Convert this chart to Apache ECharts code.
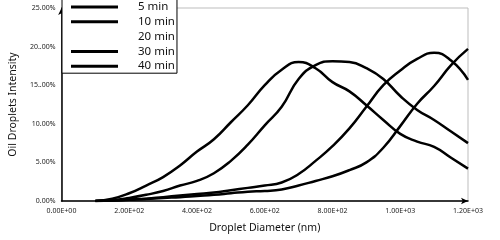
<!DOCTYPE html>
<html>
<head>
<meta charset="utf-8">
<script src="https://cdn.jsdelivr.net/npm/echarts@6/dist/echarts.min.js"></script>
<style>
  html, body { margin: 0; padding: 0; background: #fff; }
  #chart { width: 500px; height: 240px; }
</style>
</head>
<body>
<div id="chart"></div>
<script>
// droplet diameter (nm)
const diameters = [100, 150, 200, 250, 300, 350, 400, 450, 500, 550, 600, 650,
  700, 750, 800, 850, 900, 950, 1000, 1050, 1100, 1150, 1200];

// intensity (%) per time
const min5 = [0, 0.3, 1.0, 2.0, 3.1, 4.6, 6.4, 8.0, 10.2, 12.4, 15.0, 17.0,
  18.0, 17.2, 15.4, 14.2, 12.4, 10.5, 8.7, 7.7, 7.0, 5.6, 4.2];
const min10 = [0, 0.1, 0.4, 0.8, 1.3, 2.0, 2.6, 3.6, 5.2, 7.3, 9.8, 12.2,
  15.8, 17.6, 18.1, 18.0, 17.2, 15.8, 13.6, 11.8, 10.5, 9.0, 7.5];
const min20 = [];
const min30 = [0, 0.05, 0.2, 0.3, 0.5, 0.7, 0.9, 1.1, 1.4, 1.7, 2.0, 2.4,
  3.5, 5.2, 7.1, 9.4, 12.2, 15.0, 16.9, 18.4, 19.2, 18.2, 15.7];
const min40 = [0, 0.05, 0.15, 0.25, 0.4, 0.5, 0.65, 0.8, 1.0, 1.2, 1.3, 1.5,
  2.0, 2.6, 3.2, 4.0, 5.0, 6.9, 9.7, 12.6, 14.9, 17.6, 19.7];

const seriesNames = ['5 min', '10 min', '20 min', '30 min', '40 min'];
const yTickLabels = ['0.00%', '5.00%', '10.00%', '15..00%', '20..00%', '25.00%'];
const xTickLabels = ['0.00E+00', '2.00E+02', '4.00E+02', '6.00E+02', '8.00E+02', '1.00E+03', '1.20E+03'];

const chart = echarts.init(document.getElementById('chart'));

function pairs(vals) {
  return vals.map((v, i) => [diameters[i], v]);
}

const allData = [min5, min10, min20, min30, min40];

const series = seriesNames.map((name, idx) => ({
  name: name,
  type: 'line',
  smooth: true,
  symbol: 'none',
  data: pairs(allData[idx]),
  lineStyle: { color: '#000', width: 2.5 },
  itemStyle: { color: '#000' }
}));

const option = {
  animation: false,
  backgroundColor: '#fff',
  grid: {
    left: 56, right: 32, top: 8, bottom: 39,
    show: true,
    borderColor: '#bdbdbd',
    borderWidth: 1
  },
  legend: {
    orient: 'vertical',
    left: 62,
    top: -3,
    padding: [4, 2, 1, 9],
    itemGap: 2.8,
    itemWidth: 47,
    itemHeight: 3,
    icon: 'rect',
    backgroundColor: '#fff',
    borderColor: '#000',
    borderWidth: 1,
    textStyle: {
      fontFamily: 'Noto Sans',
      fontSize: 11.5,
      color: '#111',
      padding: [0, 0, 0, 15]
    },
    data: seriesNames.map(n => n === '20 min'
      ? { name: n, itemStyle: { color: 'rgba(0,0,0,0)' }, lineStyle: { color: 'rgba(0,0,0,0)' } }
      : { name: n })
  },
  xAxis: {
    type: 'value',
    min: 0,
    max: 1200,
    interval: 200,
    name: 'Droplet Diameter (nm)',
    nameLocation: 'middle',
    nameGap: 22,
    nameTextStyle: { fontFamily: 'Noto Sans', fontSize: 10.5, color: '#111' },
    axisLine: {
      show: true,
      symbol: ['none', 'arrow'],
      symbolSize: [5, 7],
      lineStyle: { color: '#000', width: 1.5 }
    },
    axisTick: { show: false },
    splitLine: { show: false },
    axisLabel: {
      fontFamily: 'Noto Sans',
      fontSize: 7,
      color: '#222',
      margin: 6,
      formatter: v => xTickLabels[Math.round(v / 200)]
    }
  },
  yAxis: {
    type: 'value',
    min: 0,
    max: 25,
    interval: 5,
    name: 'Oil Droplets Intensity',
    nameLocation: 'middle',
    nameGap: 40,
    nameTextStyle: { fontFamily: 'Noto Sans', fontSize: 10.5, color: '#111' },
    axisLine: {
      show: true,
      symbol: ['none', 'arrow'],
      symbolSize: [5, 7],
      lineStyle: { color: '#000', width: 1.5 }
    },
    axisTick: { show: false },
    splitLine: { show: false },
    axisLabel: {
      fontFamily: 'Noto Sans',
      fontSize: 7,
      color: '#222',
      margin: 6,
      formatter: v => yTickLabels[Math.round(v / 5)]
    }
  },
  series: series
};

chart.setOption(option);
</script>
</body>
</html>
